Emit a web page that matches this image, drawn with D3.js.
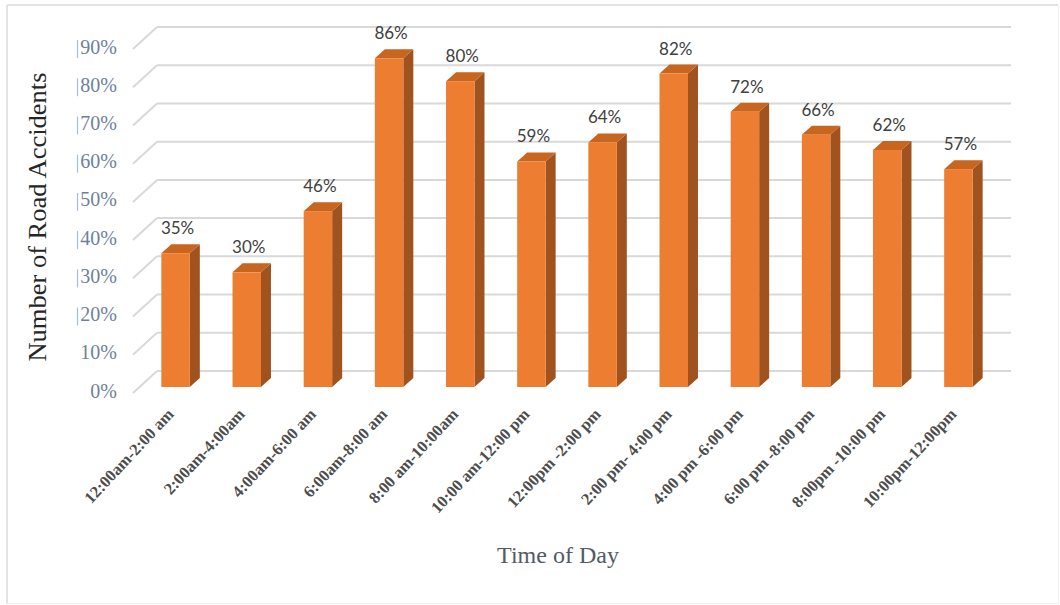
<!DOCTYPE html>
<html>
<head>
<meta charset="utf-8">
<script src="https://cdn.jsdelivr.net/npm/d3@7"></script>
<style>
  html, body { margin: 0; padding: 0; background: #fff; }
  svg { display: block; }
</style>
</head>
<body>
<svg id="chart" width="1060" height="605"></svg>
<script>
const categories = ["12:00am-2:00 am", "2:00am-4:00am", "4:00am-6:00 am", "6:00am-8:00 am",
  "8:00 am-10:00am", "10:00 am-12:00 pm", "12:00pm -2:00 pm", "2:00 pm- 4:00 pm",
  "4:00 pm -6:00 pm", "6:00 pm -8:00 pm", "8:00pm -10:00 pm", "10:00pm-12:00pm"];
const values = [35, 30, 46, 86, 80, 59, 64, 82, 72, 66, 62, 57];
const tickValues = [0, 10, 20, 30, 40, 50, 60, 70, 80, 90];
const tickLabels = ["0%", "10%", "20%", "30%", "40%", "50%", "60%", "70%", "80%", "90%"];
const markedTicks = [20, 30, 40, 50, 60, 70, 80, 90];
const yTitle = "Number of Road  Accidents";
const xTitle = "Time of Day";

const svg = d3.select("#chart");

// frame
svg.append("line").attr("x1", 7).attr("y1", 5).attr("x2", 1058).attr("y2", 5).attr("stroke", "#e3e3e3").attr("stroke-width", 2);
svg.append("line").attr("x1", 7).attr("y1", 5).attr("x2", 7).attr("y2", 604).attr("stroke", "#e3e3e3").attr("stroke-width", 2);
svg.append("line").attr("x1", 1058.5).attr("y1", 5).attr("x2", 1058.5).attr("y2", 604).attr("stroke", "#f0f0f0").attr("stroke-width", 1);
svg.append("line").attr("x1", 7).attr("y1", 603.5).attr("x2", 1058).attr("y2", 603.5).attr("stroke", "#f0f0f0").attr("stroke-width", 1);

// scales (back wall)
const x = d3.scaleBand().domain(categories).range([157, 1011]).paddingInner(0.6).paddingOuter(0.3);
const y = d3.scaleLinear().domain([0, 90]).range([371, 27]);

// 3D offsets
const wallDX = -24, wallDY = 22;   // back wall -> front floor edge
const frontDX = -17, frontDY = 16; // back wall -> bar front plane
const depthDX = 10, depthDY = -9;  // bar depth

// gridlines
const grid = svg.append("g");
tickValues.forEach(t => {
  const yy = y(t);
  grid.append("line").attr("x1", 157).attr("x2", 1011).attr("y1", yy).attr("y2", yy)
    .attr("stroke", "#d9d9d9").attr("stroke-width", 2);
  grid.append("line").attr("x1", 157 + wallDX).attr("y1", yy + wallDY).attr("x2", 157).attr("y2", yy)
    .attr("stroke", "#d9d9d9").attr("stroke-width", 2);
});

// y tick labels
const yl = svg.append("g");
tickValues.forEach((t, i) => {
  yl.append("text").attr("x", 117).attr("y", y(t) + wallDY)
    .attr("text-anchor", "end").attr("dominant-baseline", "middle")
    .attr("font-family", "'Liberation Serif', 'Times New Roman', serif")
    .attr("font-size", 20).attr("fill", "#6e819c").text(tickLabels[i]);
});
markedTicks.forEach(t => {
  yl.append("line").attr("x1", 77.5).attr("x2", 77.5).attr("y1", y(t) + wallDY - 9).attr("y2", y(t) + wallDY + 9)
    .attr("stroke", "#9fc0e0").attr("stroke-width", 1.2);
});

// bars
const bars = svg.append("g");
categories.forEach((c, i) => {
  const v = values[i];
  const x0 = x(c) + frontDX, x1 = x0 + x.bandwidth();
  const yt = y(v) + frontDY, yb = y(0) + frontDY;
  const g = bars.append("g");
  g.append("polygon").attr("points", [[x1, yt], [x1 + depthDX, yt + depthDY], [x1 + depthDX, yb + depthDY], [x1, yb]].map(p => p.join(",")).join(" "))
    .attr("fill", "#a0531f");
  g.append("polygon").attr("points", [[x0, yt], [x1, yt], [x1 + depthDX, yt + depthDY], [x0 + depthDX, yt + depthDY]].map(p => p.join(",")).join(" "))
    .attr("fill", "#c8651f");
  g.append("rect").attr("x", x0).attr("y", yt).attr("width", x1 - x0).attr("height", yb - yt)
    .attr("fill", "#ed7d31");
  g.append("text").attr("x", (x0 + x1) / 2 + 2).attr("y", yt - 19)
    .attr("text-anchor", "middle").attr("font-family", "Lato, 'Open Sans', sans-serif")
    .attr("font-size", 17).attr("fill", "#404040").text(v + "%");
});

// x tick labels
const xl = svg.append("g");
categories.forEach(c => {
  const cx = x(c) + frontDX + x.bandwidth() / 2;
  xl.append("text").attr("transform", `translate(${cx - 1},${415}) rotate(-47)`)
    .attr("text-anchor", "end").attr("font-family", "'Liberation Serif', 'Times New Roman', serif")
    .attr("font-weight", "bold").attr("font-size", 16.5).attr("fill", "#4d4d4d").text(c);
});

// axis titles
svg.append("text").attr("transform", "translate(45.5,217) rotate(-90)")
  .attr("text-anchor", "middle").attr("font-family", "'Liberation Serif', 'Times New Roman', serif")
  .attr("font-size", 25).attr("fill", "#262626").attr("textLength", 289).attr("lengthAdjust", "spacingAndGlyphs")
  .text(yTitle);
svg.append("text").attr("x", 558).attr("y", 563)
  .attr("text-anchor", "middle").attr("font-family", "'Liberation Serif', 'Times New Roman', serif")
  .attr("font-size", 24).attr("fill", "#555a66").text(xTitle);
</script>
</body>
</html>
